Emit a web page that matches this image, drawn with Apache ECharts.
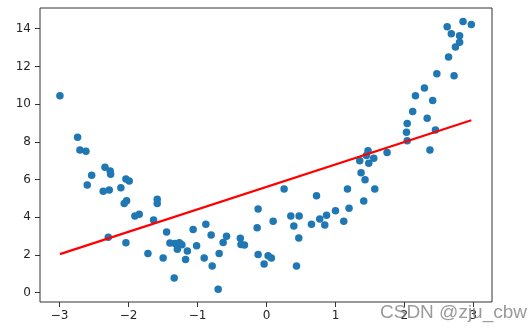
<!DOCTYPE html>
<html>
<head>
<meta charset="utf-8">
<script src="https://cdn.jsdelivr.net/npm/echarts@6/dist/echarts.min.js"></script>
<style>html,body{margin:0;padding:0;background:#fff}#c{width:530px;height:334px}</style>
</head>
<body>
<div id="c"></div>
<script>
var pointX = [-2.996,-2.74,-2.706,-2.619,-2.343,-2.267,-2.261,-2.536,-2.60,-2.368,-2.281,-2.112,-2.039,-1.991,-2.064,-2.029,-1.585,-1.585,-1.909,-1.846,-1.638,-2.295,-2.039,-1.72,-1.499,-1.449,
  -1.401,-1.329,-1.264,-1.228,-1.293,-1.148,-1.174,-1.339,-1.064,-1.014,-0.88,-0.803,-0.904,-0.788,-0.701,-0.687,-0.629,-0.58,-0.38,-0.37,-0.32,
  -0.122,-0.136,0.096,-0.122,0.023,0.07,-0.035,0.255,0.725,0.352,0.473,0.396,0.468,0.435,0.652,0.772,0.87,0.845,1.0,1.12,1.197,1.174,1.41,1.57,1.371,1.429,
  1.352,1.449,1.472,1.555,1.483,1.748,2.04,2.03,2.04,2.37,2.45,2.33,2.12,2.41,2.16,2.29,2.72,2.47,2.64,2.74,2.80,2.80,2.68,2.62,2.97,2.85];
var pointY = [10.44,8.24,7.57,7.50,6.65,6.45,6.28,6.22,5.71,5.37,5.44,5.56,6.03,5.92,4.73,4.87,4.95,4.73,4.06,4.15,3.85,2.93,2.64,2.07,1.84,3.22,
  2.63,2.61,2.65,2.54,2.30,2.20,1.76,0.78,3.35,2.48,3.63,3.06,1.84,1.41,0.18,2.07,2.66,2.99,2.88,2.55,2.52,
  4.43,3.44,3.79,2.02,1.95,1.83,1.51,5.49,5.14,4.06,4.06,3.53,2.90,1.41,3.63,3.90,4.10,3.58,4.34,3.79,4.47,5.49,4.86,5.49,6.36,5.99,
  7.00,7.27,7.53,7.13,6.86,7.43,8.06,8.51,8.97,7.57,8.63,9.25,9.61,10.19,10.44,10.85,11.51,11.61,12.50,13.03,13.28,13.63,13.74,14.10,14.22,14.39];
var fitX = [-2.996, 2.97];
var fitY = [2.04, 9.14];
var xTicks = [-3,-2,-1,0,1,2,3];
var yTicks = [0,2,4,6,8,10,12,14];

var pts = pointX.map(function(x,i){return [x, pointY[i]];});
var fit = fitX.map(function(x,i){return [x, fitY[i]];});
var chart = echarts.init(document.getElementById('c'), null, {renderer:'canvas'});
var labelStyle = {color:'#262626', fontFamily:'DejaVu Sans', fontSize:12};
chart.setOption({
  animation:false,
  grid:{left:40,right:38,top:8,bottom:32,show:true,borderColor:'#333',borderWidth:1,backgroundColor:'transparent'},
  xAxis:{type:'value',min:-3.285,max:3.27,position:'bottom',
    axisLine:{show:false,onZero:false},
    splitLine:{show:false},
    axisTick:{show:true,length:5,lineStyle:{color:'#333'},customValues:xTicks},
    axisLabel:Object.assign({margin:8,customValues:xTicks,formatter:function(v){return v<0?'\u2212'+(-v):String(v);}},labelStyle)},
  yAxis:{type:'value',min:-0.5,max:15.1,position:'left',
    axisLine:{show:false,onZero:false},
    splitLine:{show:false},
    axisTick:{show:true,length:5,lineStyle:{color:'#333'},customValues:yTicks},
    axisLabel:Object.assign({margin:9,customValues:yTicks},labelStyle)},
  series:[
    {type:'scatter',data:pts,symbolSize:7.5,itemStyle:{color:'#1f77b4',opacity:1},z:2},
    {type:'line',data:fit,symbol:'none',lineStyle:{color:'#ff0000',width:2.2},z:3}
  ],
  graphic:[{type:'text',left:380,top:303,z:100,style:{text:'CSDN @zju_cbw',fill:'rgba(120,120,120,0.75)',font:'19px "Liberation Sans", sans-serif'}}]
});
</script>
</body>
</html>
